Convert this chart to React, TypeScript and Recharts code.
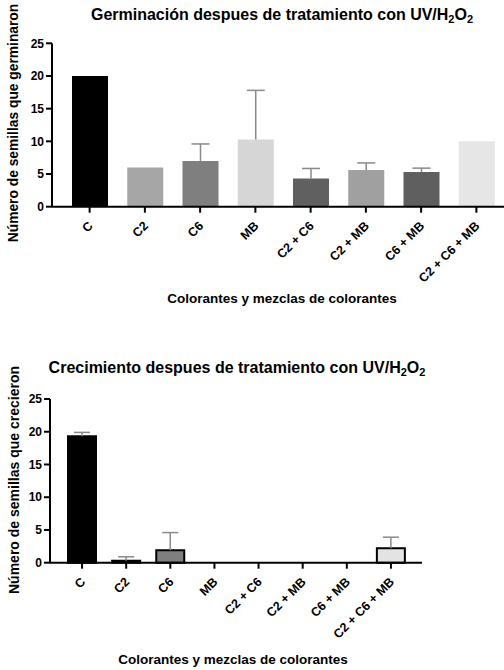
import React from 'react';
import { BarChart, Bar, XAxis, YAxis, Cell, ErrorBar } from 'recharts';

const categories = ['C', 'C2', 'C6', 'MB', 'C2 + C6', 'C2 + MB', 'C6 + MB', 'C2 + C6 + MB'];
const germValues = [20, 6, 7, 10.3, 4.3, 5.6, 5.3, 10];
const germErrors: (number | null)[] = [null, null, 2.6, 7.5, 1.55, 1.1, 0.6, null];
const growValues = [19.3, 0.3, 1.9, 0, 0, 0, 0, 2.2];
const growErrors: (number | null)[] = [0.6, 0.6, 2.7, null, null, null, null, 1.7];
const yTicks = [0, 5, 10, 15, 20, 25];
const germColors = ['#000000', '#a6a6a6', '#7f7f7f', '#d6d6d6', '#606060', '#a0a0a0', '#5f5f5f', '#e6e6e6'];
const growColors = ['#000000', '#a6a6a6', '#7f7f7f', '#d6d6d6', '#606060', '#a0a0a0', '#5f5f5f', '#e3e3e3'];

const germData = categories.map((c, i) => ({
  name: c,
  value: germValues[i],
  err: germErrors[i] == null ? null : [0, germErrors[i]],
}));
const growData = categories.map((c, i) => ({
  name: c,
  value: growValues[i],
  err: growErrors[i] == null ? null : [0, growErrors[i]],
}));

const FONT = '"Liberation Sans", Arial, sans-serif';

const RotTick = (props: any) => {
  const { x, y, payload } = props;
  const ax = x + 4;
  const ay = y + 12;
  return (
    <text
      x={ax}
      y={ay}
      transform={`rotate(-45, ${ax}, ${ay})`}
      textAnchor="end"
      fontSize={12.5}
      fontWeight={700}
      fill="#000"
      fontFamily={FONT}
    >
      {payload.value}
    </text>
  );
};

const subStyle: React.CSSProperties = { fontSize: 11, verticalAlign: -3, lineHeight: 0 };

const Title = ({ text, cx, cy }: { text: string; cx: number; cy: number }) => (
  <div
    style={{
      position: 'absolute',
      left: cx,
      top: cy,
      transform: 'translate(-50%, -50%)',
      whiteSpace: 'nowrap',
      fontSize: 16,
      fontWeight: 700,
      fontFamily: FONT,
      color: '#000',
      lineHeight: '18px',
    }}
  >
    {text}
    UV/H<sub style={subStyle}>2</sub>O<sub style={subStyle}>2</sub>
  </div>
);

const Label = ({
  text,
  cx,
  cy,
  size,
  rotate,
}: {
  text: string;
  cx: number;
  cy: number;
  size: number;
  rotate?: boolean;
}) => (
  <div
    style={{
      position: 'absolute',
      left: cx,
      top: cy,
      transform: `translate(-50%, -50%)${rotate ? ' rotate(-90deg)' : ''}`,
      whiteSpace: 'nowrap',
      fontSize: size,
      fontWeight: 700,
      fontFamily: FONT,
      color: '#000',
      lineHeight: `${size + 2}px`,
    }}
  >
    {text}
  </div>
);

const axisTick = { fill: '#000', fontSize: 12, fontWeight: 700, fontFamily: FONT };

export default function App() {
  return (
    <div
      style={{
        position: 'absolute',
        left: 0,
        top: 0,
        width: 504,
        height: 670,
        overflow: 'hidden',
        background: '#fff',
        fontFamily: FONT,
      }}
    >
      <style>{`.recharts-errorBar line:nth-of-type(3){display:none}`}</style>
      <Title text="Germinación despues de tratamiento con " cx={282} cy={15} />
      <Label text="Número de semillas que germinaron" cx={14} cy={123} size={13.8} rotate />
      <Label text="Colorantes y mezclas de colorantes" cx={282} cy={299} size={13.5} />
      <div style={{ position: 'absolute', left: 0, top: 0 }}>
        <BarChart
          width={504}
          height={300}
          data={germData}
          margin={{ top: 43.3, right: 0, left: 0, bottom: 0 }}
        >
          <XAxis
            dataKey="name"
            interval={0}
            padding={{ left: 10, right: 0 }}
            height={300 - 43.3 - 163.4}
            axisLine={{ stroke: '#000', strokeWidth: 2 }}
            tickLine={{ stroke: '#000', strokeWidth: 2 }}
            tickSize={6}
            tick={<RotTick />}
          />
          <YAxis
            width={52}
            domain={[0, 25]}
            ticks={yTicks}
            axisLine={{ stroke: '#000', strokeWidth: 2 }}
            tickLine={{ stroke: '#000', strokeWidth: 2 }}
            tickSize={6}
            tickMargin={2}
            tick={axisTick}
          />
          <Bar dataKey="value" barSize={36} isAnimationActive={false}>
            {germData.map((d, i) => (
              <Cell key={d.name} fill={germColors[i]} />
            ))}
            <ErrorBar dataKey="err" width={9} stroke="#8a8a8a" strokeWidth={1.5} direction="y" />
          </Bar>
        </BarChart>
      </div>

      <Title text="Crecimiento despues de tratamiento con " cx={237} cy={368} />
      <Label text="Número de semillas que crecieron" cx={14} cy={480} size={14} rotate />
      <Label text="Colorantes y mezclas de colorantes" cx={233} cy={660} size={13.5} />
      <div style={{ position: 'absolute', left: 0, top: 340 }}>
        <BarChart
          width={430}
          height={300}
          data={growData}
          margin={{ top: 59, right: 8, left: 0, bottom: 0 }}
        >
          <XAxis
            dataKey="name"
            interval={0}
            padding={{ left: 10, right: 9 }}
            height={300 - 59 - 163.7}
            axisLine={{ stroke: '#000', strokeWidth: 2 }}
            tickLine={{ stroke: '#000', strokeWidth: 2 }}
            tickSize={6}
            tick={<RotTick />}
          />
          <YAxis
            width={50}
            domain={[0, 25]}
            ticks={yTicks}
            axisLine={{ stroke: '#000', strokeWidth: 2 }}
            tickLine={{ stroke: '#000', strokeWidth: 2 }}
            tickSize={6}
            tickMargin={2}
            tick={axisTick}
          />
          <Bar dataKey="value" barSize={28} stroke="#000" strokeWidth={2} isAnimationActive={false}>
            {growData.map((d, i) => (
              <Cell key={d.name} fill={growColors[i]} />
            ))}
            <ErrorBar dataKey="err" width={8} stroke="#8a8a8a" strokeWidth={1.5} direction="y" />
          </Bar>
        </BarChart>
      </div>
    </div>
  );
}
